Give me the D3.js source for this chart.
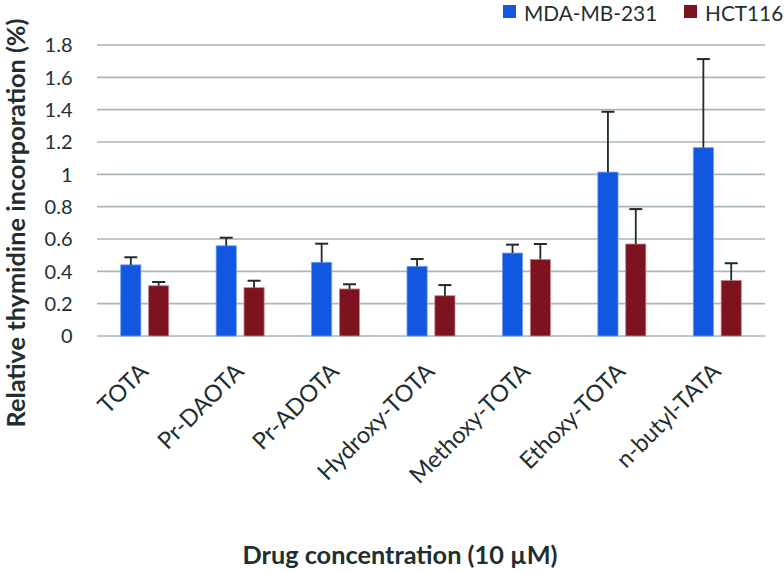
<!DOCTYPE html>
<html><head><meta charset="utf-8">
<script src="https://cdn.jsdelivr.net/npm/d3@7"></script>
<style>
body{margin:0;background:#fff;}
svg text{font-family:Lato,"Open Sans",sans-serif;fill:#1f2f2f;}
</style></head>
<body><svg id="c" width="784" height="573"></svg>
<script>
const categories = ["TOTA","Pr-DAOTA","Pr-ADOTA","Hydroxy-TOTA","Methoxy-TOTA","Ethoxy-TOTA","n-butyl-TATA"];
const seriesNames = ["MDA-MB-231","HCT116"];
const mdaValues = [0.44,0.558,0.456,0.431,0.513,1.014,1.165];
const mdaErrors = [0.047,0.050,0.115,0.045,0.052,0.373,0.548];
const hctValues = [0.311,0.299,0.291,0.249,0.474,0.569,0.344];
const hctErrors = [0.023,0.043,0.029,0.066,0.095,0.216,0.106];
const yTicks = [0,0.2,0.4,0.6,0.8,1,1.2,1.4,1.6,1.8];
const colors = ["#1257e0","#7e1320"];
const strokes = ["#6f9af0","#c58a92"];

const svg = d3.select("#c");
const plotLeft=97, plotRight=765, plotTop=45, plotBottom=336;
const y = d3.scaleLinear().domain([0,1.8]).range([plotBottom, plotTop]);
const x0 = d3.scaleBand().domain(categories).range([plotLeft,plotRight]).padding(0);
const x1 = d3.scaleBand().domain(seriesNames).range([-24.5,24.5]).paddingInner(0.24);

// gridlines
svg.append("g").selectAll("line").data(yTicks).join("line")
  .attr("x1",plotLeft).attr("x2",plotRight)
  .attr("y1",d=>y(d)).attr("y2",d=>y(d))
  .attr("stroke","#a9b9b7").attr("stroke-width",1.6);

// y tick labels
svg.append("g").selectAll("text").data(yTicks).join("text")
  .attr("x",72.5).attr("y",d=>y(d)).attr("dy","0.36em")
  .attr("text-anchor","end").attr("font-size",20)
  .text(d=>d3.format("")(d));

const series = [
  {name:seriesNames[0], values:mdaValues, errors:mdaErrors, color:colors[0], stroke:strokes[0]},
  {name:seriesNames[1], values:hctValues, errors:hctErrors, color:colors[1], stroke:strokes[1]}
];

series.forEach(s=>{
  const g = svg.append("g");
  const data = categories.map((c,i)=>({c, v:s.values[i], e:s.errors[i]}));
  const cx = d=> x0(d.c)+x0.bandwidth()/2 + x1(s.name);
  g.selectAll("rect").data(data).join("rect")
    .attr("x",d=>cx(d)+0.5).attr("y",d=>y(d.v))
    .attr("width",x1.bandwidth()-1).attr("height",d=>y(0)-y(d.v))
    .attr("fill",s.color).attr("stroke",s.stroke).attr("stroke-width",0.8);
  const mid = d=> cx(d)+x1.bandwidth()/2;
  g.selectAll("line.v").data(data).join("line").attr("class","v")
    .attr("x1",mid).attr("x2",mid)
    .attr("y1",d=>y(d.v)).attr("y2",d=>y(d.v+d.e))
    .attr("stroke","#1e2a2a").attr("stroke-width",1.8);
  g.selectAll("line.cap").data(data).join("line").attr("class","cap")
    .attr("x1",d=>mid(d)-6.5).attr("x2",d=>mid(d)+6.5)
    .attr("y1",d=>y(d.v+d.e)).attr("y2",d=>y(d.v+d.e))
    .attr("stroke","#1e2a2a").attr("stroke-width",2);
});

// x labels
svg.append("g").selectAll("text").data(categories).join("text")
  .attr("transform",d=>`translate(${x0(d)+x0.bandwidth()/2+5},${373}) rotate(-45)`)
  .attr("text-anchor","end").attr("font-size",23.5)
  .text(d=>d);

// axis titles
svg.append("text").attr("x",400).attr("y",564).attr("text-anchor","middle")
  .attr("font-size",25.3).attr("font-weight","bold").text("Drug concentration (10 µM)");
svg.append("text").attr("transform","translate(24.5,223) rotate(-90)")
  .attr("text-anchor","middle").attr("font-size",25.3).attr("font-weight","bold")
  .text("Relative thymidine incorporation (%)");

// legend
const leg = svg.append("g");
const legX = [503,684];
seriesNames.forEach((n,i)=>{
  leg.append("rect").attr("x",legX[i]).attr("y",5).attr("width",13).attr("height",13).attr("fill",colors[i]);
  leg.append("text").attr("x",legX[i]+21).attr("y",20.5).attr("font-size",20.8).text(n);
});
</script></body></html>
